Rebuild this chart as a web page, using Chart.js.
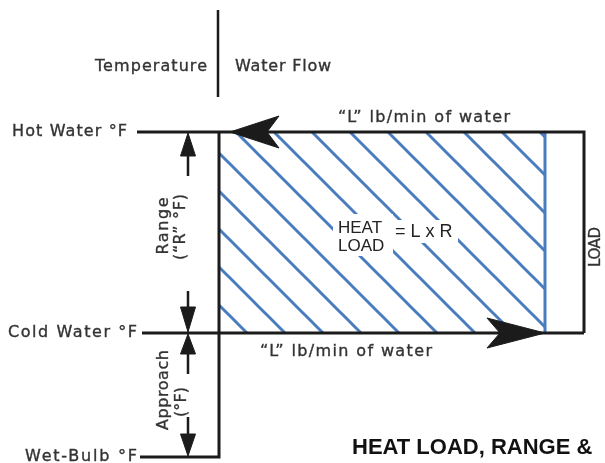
<!DOCTYPE html>
<html>
<head>
<meta charset="utf-8">
<script src="https://cdn.jsdelivr.net/npm/chart.js@4.4.1/dist/chart.umd.min.js"></script>
<style>
  html, body { margin: 0; padding: 0; background: #fff; }
  canvas { display: block; }
</style>
</head>
<body>
<canvas id="diagram" width="605" height="463"></canvas>
<script>
// Temperature levels (diagram units, 0 = top of the picture)
const levelNames = ['Hot Water °F', 'Cold Water °F', 'Wet-Bulb °F'];
const levelValues = [132, 333, 457];

// Water flow through the tower (diagram units along x)
const flowStart = 219;
const heatLoadEnd = 545;
const flowEnd = 584;

// Texts
const headerLabels = ['Temperature', 'Water Flow'];
const flowLabel = '“L” lb/min of water';
const rangeLabel = ['Range', '(“R” °F)'];
const approachLabel = ['Approach', '(°F)'];
const heatLoadLabel = ['HEAT', 'LOAD'];
const heatLoadFormula = '= L x R';
const sideLabel = 'LOAD';
const titleText = 'HEAT LOAD, RANGE &';

const hot = levelValues[0];
const cold = levelValues[1];
const wetBulb = levelValues[2];

const black = '#1b1b1b';
const blue = '#4a7cc0';
const grey = '#333';

// diagonal hatch used for the heat load area
function makeHatch() {
    const size = 38;
    const tile = document.createElement('canvas');
    tile.width = size;
    tile.height = size;
    const t = tile.getContext('2d');
    t.strokeStyle = blue;
    t.lineWidth = 3;
    for (let k = -1; k <= 1; k++) {
        t.beginPath();
        t.moveTo(-5, -5 + size * k);
        t.lineTo(size + 5, size + 5 + size * k);
        t.stroke();
    }
    const pattern = t.createPattern(tile, 'repeat');
    pattern.setTransform(new DOMMatrix().translate(0, 10));
    return pattern;
}

function line(points, color, width, order) {
    return {
        data: points.map(p => ({x: p[0], y: p[1]})),
        showLine: true,
        borderColor: color,
        borderWidth: width,
        borderCapStyle: 'butt',
        borderJoinStyle: 'miter',
        pointRadius: 0,
        fill: false,
        order: order
    };
}

function head(points, color) {
    const ds = line(points.concat([points[0]]), color, 1, 0);
    ds.fill = 'shape';
    ds.backgroundColor = color;
    return ds;
}

// small vertical dimension arrow: tip at y, pointing up (dir -1) or down (dir 1)
function dimArrow(x, tipY, dir, headLen, shaftLen) {
    const baseY = tipY - dir * headLen;
    return [
        head([[x, tipY], [x - 7.5, baseY], [x + 7.5, baseY]], black),
        line([[x, baseY], [x, baseY - dir * shaftLen]], black, 2.5, 1)
    ];
}

const arrowX = 188;

const datasets = [
    // heat load area
    {
        data: [
            {x: flowStart, y: hot}, {x: heatLoadEnd, y: hot},
            {x: heatLoadEnd, y: cold}, {x: flowStart, y: cold}, {x: flowStart, y: hot}
        ],
        showLine: true,
        borderColor: 'rgba(0,0,0,0)',
        borderWidth: 0,
        pointRadius: 0,
        fill: 'shape',
        backgroundColor: makeHatch(),
        order: 10
    },
    line([[heatLoadEnd, hot], [heatLoadEnd, cold]], blue, 3, 5),
    // header divider
    line([[218, 10], [218, 97]], black, 2.5, 1),
    // temperature lines and tower outline
    line([[137, hot], [flowEnd, hot], [flowEnd, cold]], black, 3, 1),
    line([[142, cold], [flowEnd, cold]], black, 3, 1),
    line([[flowStart, hot], [flowStart, wetBulb], [140, wetBulb]], black, 3, 1),
    // water flow arrows
    head([[230, hot], [279, hot - 16], [267, hot], [279, hot + 16]], black),
    head([[heatLoadEnd, cold], [487, cold - 15], [500, cold], [487, cold + 15]], black)
].concat(
    dimArrow(arrowX, hot + 1, -1, 23, 20),
    dimArrow(arrowX, cold - 1, 1, 25, 16),
    dimArrow(arrowX, cold + 1, -1, 20, 20),
    dimArrow(arrowX, wetBulb - 1, 1, 22, 17)
);

// o.width: stretch letter spacing so the text covers that many pixels
function drawText(ctx, text, x, y, o) {
    ctx.save();
    ctx.font = o.font;
    ctx.fillStyle = o.color;
    ctx.textBaseline = 'middle';
    ctx.textAlign = 'left';
    let spacing = o.spacing || 0;
    if (o.width) {
        ctx.letterSpacing = '0px';
        const natural = ctx.measureText(text).width;
        spacing = (o.width - natural) / Math.max(1, text.length - 1);
    }
    ctx.letterSpacing = spacing + 'px';
    const w = ctx.measureText(text).width - spacing;
    ctx.translate(x, y);
    if (o.rotate) ctx.rotate(o.rotate);
    const tx = o.align === 'center' ? -w / 2 : 0;
    ctx.fillText(text, tx, 0);
    if (o.heavy) {
        // scanned labels look a bit heavier
        ctx.strokeStyle = o.color;
        ctx.lineWidth = o.heavy;
        ctx.strokeText(text, tx, 0);
    }
    ctx.restore();
}

const labelPlugin = {
    id: 'labels',
    afterDatasetsDraw(chart) {
        const ctx = chart.ctx;
        const sx = v => chart.scales.x.getPixelForValue(v);
        const sy = v => chart.scales.y.getPixelForValue(v);
        const scanFont = '16px "DejaVu Sans", Verdana, sans-serif';
        const scan = w => ({font: scanFont, color: grey, width: w, heavy: 0.35});
        const scanUp = w => ({font: scanFont, color: grey, width: w, heavy: 0.35, rotate: -Math.PI / 2, align: 'center'});
        const crisp = {font: '17px "Liberation Sans", Arial, sans-serif', color: '#222'};

        drawText(ctx, headerLabels[0], sx(95), sy(67), scan(112));
        drawText(ctx, headerLabels[1], sx(235), sy(67), {font: scanFont, color: grey, spacing: 0.8, heavy: 0.35});

        const labelX = [12, 8, 25];
        const labelW = [115, 129, 112];
        levelNames.forEach((name, i) => {
            drawText(ctx, name, sx(labelX[i]), sy(levelValues[i]), scan(labelW[i]));
        });

        drawText(ctx, flowLabel, sx(338), sy(hot - 14), scan(172));
        drawText(ctx, flowLabel, sx(260), sy(cold + 19), scan(172));

        drawText(ctx, rangeLabel[0], sx(164), sy(226), scanUp(57));
        drawText(ctx, rangeLabel[1], sx(181), sy(227), scanUp(66));
        drawText(ctx, approachLabel[0], sx(164), sy(390), scanUp(80));
        drawText(ctx, approachLabel[1], sx(182), sy(402), scanUp(30));
        drawText(ctx, sideLabel, sx(596), sy(247), Object.assign(scanUp(40), {font: '15px "DejaVu Sans", Verdana, sans-serif'}));

        // white boxes behind the heat load text
        ctx.save();
        ctx.fillStyle = '#fff';
        ctx.fillRect(sx(333), sy(214), sx(393) - sx(333), sy(256) - sy(214));
        ctx.fillRect(sx(391), sy(220), sx(458) - sx(391), sy(243) - sy(220));
        ctx.restore();
        drawText(ctx, heatLoadLabel[0], sx(338), sy(228), crisp);
        drawText(ctx, heatLoadLabel[1], sx(338), sy(246), crisp);
        drawText(ctx, heatLoadFormula, sx(395), sy(232), Object.assign({}, crisp, {font: '18px "Liberation Sans", Arial, sans-serif'}));

        drawText(ctx, titleText, sx(352), sy(448), {font: 'bold 22px "Liberation Sans", Arial, sans-serif', color: '#111'});
    }
};

new Chart(document.getElementById('diagram'), {
    type: 'scatter',
    data: { datasets: datasets },
    options: {
        responsive: false,
        animation: false,
        events: [],
        layout: { padding: 0 },
        plugins: {
            legend: { display: false },
            tooltip: { enabled: false }
        },
        scales: {
            x: { type: 'linear', min: 0, max: 605, display: false },
            y: { type: 'linear', min: 0, max: 463, reverse: true, display: false }
        }
    },
    plugins: [labelPlugin]
});
</script>
</body>
</html>
